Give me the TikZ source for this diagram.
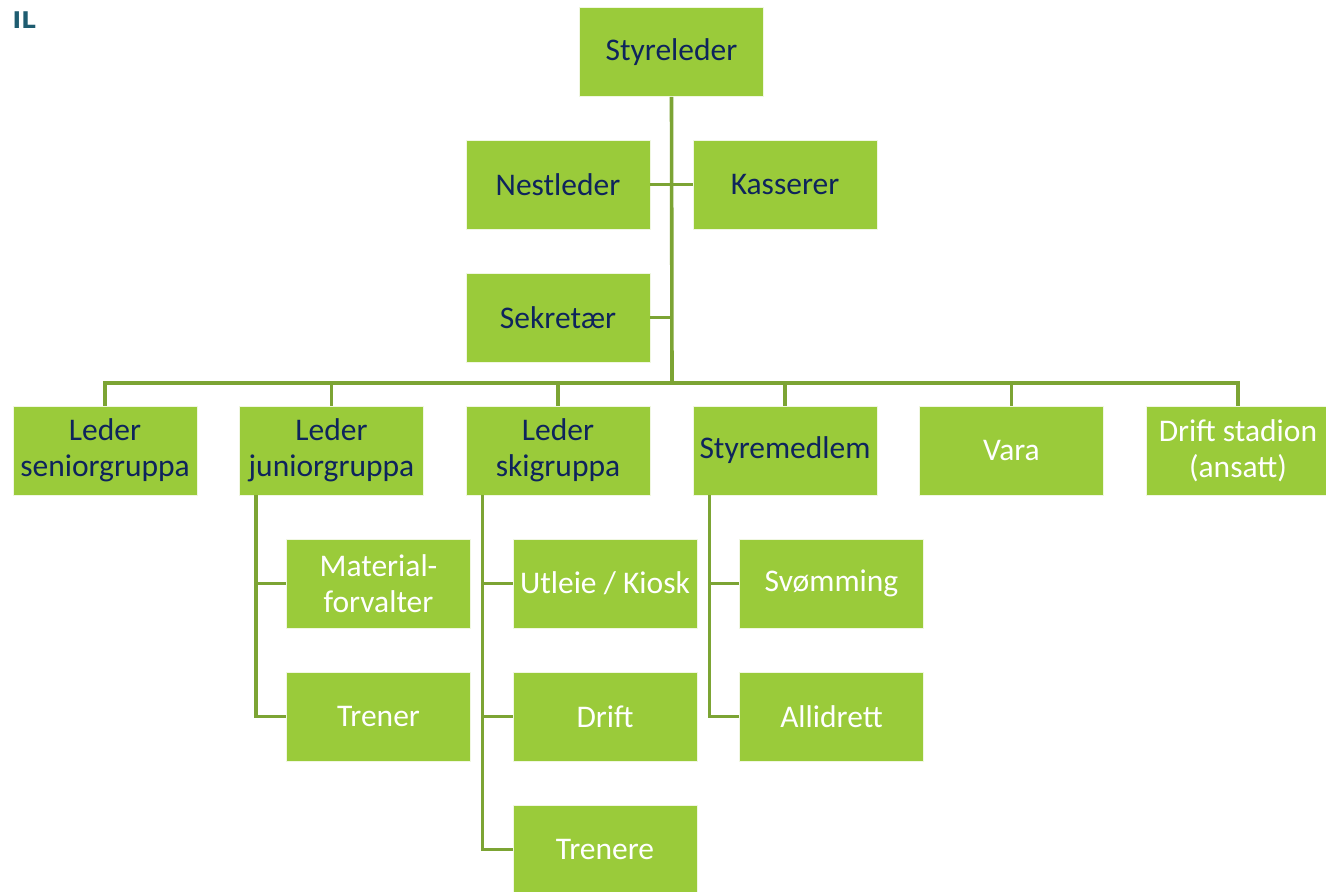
\documentclass[tikz,border=0pt]{standalone}
\usepackage{fontspec}
\setmainfont{Carlito}
\newfontfamily\titlefont{DejaVu Sans}
\definecolor{boxgreen}{RGB}{154,203,58}
\definecolor{linegreen}{RGB}{124,164,52}
\definecolor{navy}{RGB}{14,36,92}
\definecolor{teal}{RGB}{30,92,112}
\tikzset{
  orgbox/.style={fill=boxgreen, draw=white!85!boxgreen, line width=0.8pt, minimum width=184pt, minimum height=89pt, inner sep=0pt, align=center, font=\fontsize{31.5}{36}\selectfont},
  dark/.style={orgbox, text=navy},
  light/.style={orgbox, text=white},
  conn/.style={draw=linegreen, line width=3.6pt},
}
\begin{document}
\begin{tikzpicture}[x=1pt,y=-1pt]
\useasboundingbox (0,0) rectangle (1326,892);
\fill[white] (0,0) rectangle (1326,892);
\node[anchor=base west, inner sep=0pt, text=teal, font=\titlefont\fontsize{23}{26}\selectfont\bfseries] (title) at (12.5,28) {IL};
% top
\node[dark] (sty) at (671.5,52) {Styreleder};
\node[dark] (nest) at (558,184.5) {Nestleder};
\node[dark] (kass) at (785,184.5) {Kasserer};
\node[dark] (sek) at (558,317.5) {Sekretær};
% row 2
\node[dark] (sen) at (105,450.5) {Leder\\seniorgruppa};
\node[dark] (jun) at (331.5,450.5) {Leder\\juniorgruppa};
\node[dark] (ski) at (558,450.5) {Leder\\skigruppa};
\node[dark] (stm) at (785,450.5) {Styremedlem};
\node[light] (vara) at (1011.5,450.5) {Vara};
\node[light] (dst) at (1238,450.5) {Drift stadion\\(ansatt)};
% children
\node[light] (mat) at (378.5,583.5) {Material-\\forvalter};
\node[light] (tre) at (378.5,716.5) {Trener};
\node[light] (utl) at (605,583.5) {Utleie / Kiosk};
\node[light] (dri) at (605,716.5) {Drift};
\node[light] (tres) at (605,849.5) {Trenere};
\node[light] (svo) at (831.5,583.5) {Svømming};
\node[light] (all) at (831.5,716.5) {Allidrett};
% connectors
\coordinate (bus) at (672,383);
\draw[conn] (sty.south) -- (bus);
\draw[conn] (nest.east) -- (kass.west);
\draw[conn] (sek.east) -- (sek.east -| bus);
\draw[conn] (sen.north) |- (bus) -| (dst.north);
\draw[conn] (jun.north) -- (jun.north |- bus);
\draw[conn] (ski.north) -- (ski.north |- bus);
\draw[conn] (stm.north) -- (stm.north |- bus);
\draw[conn] (vara.north) -- (vara.north |- bus);
\coordinate (jv) at ([xshift=17pt]jun.south west);
\coordinate (sv) at ([xshift=17pt]ski.south west);
\coordinate (mv) at ([xshift=17pt]stm.south west);
\draw[conn] (jv) |- (mat.west);
\draw[conn] (jv) |- (tre.west);
\draw[conn] (sv) |- (utl.west);
\draw[conn] (sv) |- (dri.west);
\draw[conn] (sv) |- (tres.west);
\draw[conn] (mv) |- (svo.west);
\draw[conn] (mv) |- (all.west);
\end{tikzpicture}
\end{document}
